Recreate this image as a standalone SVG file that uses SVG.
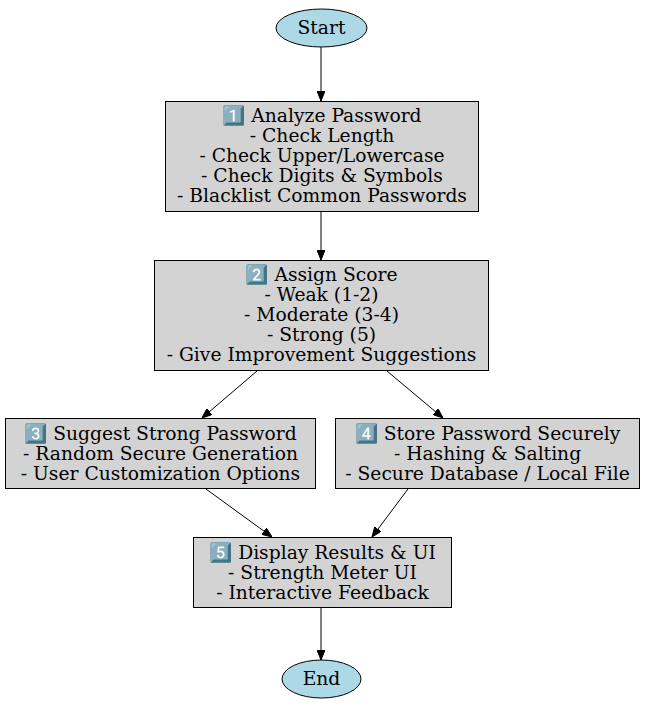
<svg xmlns="http://www.w3.org/2000/svg" width="645" height="709" viewBox="0 0 645 709">
<style>
.box{fill:#d3d3d3;stroke:#000;stroke-width:1}
.ell{fill:#add8e6;stroke:#000;stroke-width:1}
text{font-family:"DejaVu Serif","Liberation Serif",serif;font-size:18.7px;fill:#000;text-anchor:middle}
.edge{stroke:#000;stroke-width:1;fill:none;marker-end:url(#ah)}
</style>
<defs>
<marker id="ah" viewBox="0 0 10 8" refX="10" refY="4" markerWidth="10" markerHeight="8" markerUnits="userSpaceOnUse" orient="auto">
<path d="M0,0 L10,4 L0,8 Z" fill="#000" stroke="#000"/>
</marker>
</defs>
<rect width="645" height="709" fill="#fff"/>
<g id="connectors">
<line class="edge" x1="321" y1="47" x2="321" y2="101"/>
<line class="edge" x1="321" y1="212" x2="321" y2="260"/>
<line class="edge" x1="257" y1="371" x2="202" y2="418"/>
<line class="edge" x1="387" y1="371" x2="443" y2="418"/>
<line class="edge" x1="206" y1="489" x2="272" y2="537"/>
<line class="edge" x1="408" y1="489" x2="372" y2="537"/>
<line class="edge" x1="321" y1="607" x2="321" y2="660"/>
</g>
<g id="start">
<ellipse class="ell" cx="321.5" cy="28" rx="45.5" ry="19"/>
<text x="321.5" y="34">Start</text>
</g>
<g id="analyze">
<rect class="box" x="165.5" y="101.5" width="313" height="110"/>
<text x="322" y="122">1️⃣ Analyze Password</text>
<text x="322" y="142">- Check Length</text>
<text x="322" y="162">- Check Upper/Lowercase</text>
<text x="322" y="182">- Check Digits &amp; Symbols</text>
<text x="322" y="202">- Blacklist Common Passwords</text>
</g>
<g id="score">
<rect class="box" x="154.5" y="260.5" width="334" height="110"/>
<text x="321.5" y="281">2️⃣ Assign Score</text>
<text x="321.5" y="301">- Weak (1-2)</text>
<text x="321.5" y="321">- Moderate (3-4)</text>
<text x="321.5" y="341">- Strong (5)</text>
<text x="321.5" y="361">- Give Improvement Suggestions</text>
</g>
<g id="suggest">
<rect class="box" x="5.5" y="418.5" width="310" height="70"/>
<text x="160.5" y="440">3️⃣ Suggest Strong Password</text>
<text x="160.5" y="460">- Random Secure Generation</text>
<text x="160.5" y="480">- User Customization Options</text>
</g>
<g id="store">
<rect class="box" x="335.5" y="418.5" width="304" height="70"/>
<text x="487.5" y="440">4️⃣ Store Password Securely</text>
<text x="487.5" y="460">- Hashing &amp; Salting</text>
<text x="487.5" y="480">- Secure Database / Local File</text>
</g>
<g id="display">
<rect class="box" x="193.5" y="537.5" width="258" height="70"/>
<text x="322.5" y="559">5️⃣ Display Results &amp; UI</text>
<text x="322.5" y="579">- Strength Meter UI</text>
<text x="322.5" y="599">- Interactive Feedback</text>
</g>
<g id="end">
<ellipse class="ell" cx="321.5" cy="679" rx="39.5" ry="19"/>
<text x="321.5" y="685">End</text>
</g>
</svg>
